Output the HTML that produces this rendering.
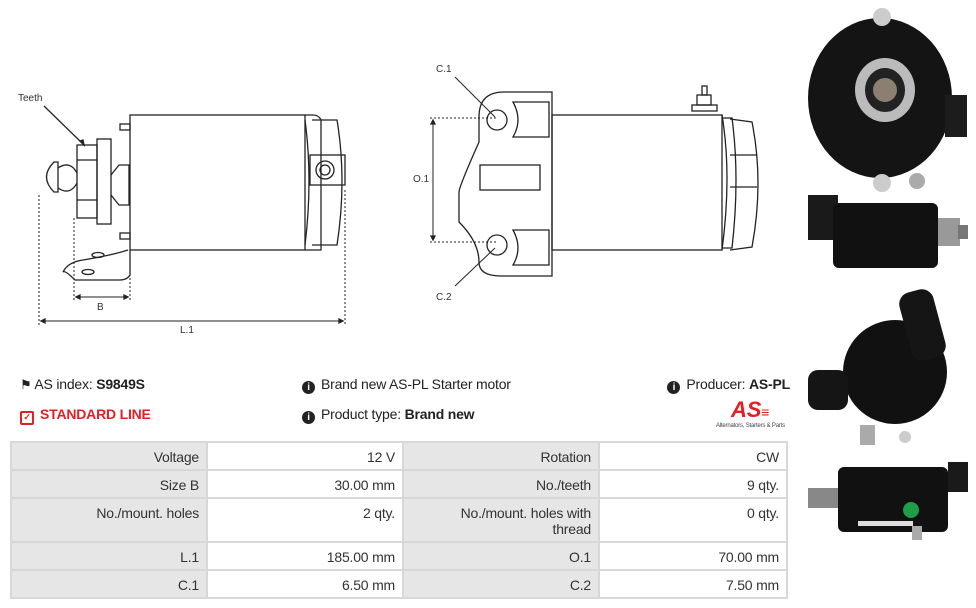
<!DOCTYPE html>
<html><head><meta charset="utf-8"><style>
body{margin:0;width:976px;height:608px;background:#fff;font-family:"Liberation Sans",sans-serif;position:relative;overflow:hidden;color:#222}
.t{position:absolute;font-size:14px;white-space:nowrap;letter-spacing:-0.2px}
b{font-weight:bold}
table{position:absolute;left:10px;top:441px;width:778px;border-collapse:collapse;font-size:14px;border:2px solid #d8d8d8;letter-spacing:-0.2px}
td{border:2px solid #d8d8d8;text-align:right;padding:6px 7px 0 4px;vertical-align:top;color:#333;line-height:16px}
td.h{background:#e6e6e6}
.ic{display:inline-block;width:13px;height:13px;border-radius:50%;background:#222;color:#fff;font-size:10px;text-align:center;line-height:13px;font-weight:bold;margin-right:6px;vertical-align:-1px}
</style></head><body>
<svg width="976" height="608" style="position:absolute;left:0;top:0" fill="none" stroke="#222" stroke-width="1.3">
<text x="18" y="101" font-size="10" fill="#333" stroke="none" font-family="Liberation Sans">Teeth</text>
<line x1="44" y1="106" x2="83" y2="144"/><path d="M80 141 l4 4 l-1 -5z" fill="#222"/>
<rect x="130" y="115" width="175" height="135"/>
<path d="M305 115 l8 0 q6 0 8 5 l0 130 -8 0 -8 0"/>
<path d="M305 120 q8 60 0 125"/>
<path d="M312 120 l25 0 q10 60 0 125 l-25 0"/>
<rect x="310" y="155" width="35" height="30"/>
<circle cx="325" cy="170" r="9"/><circle cx="325" cy="170" r="5"/>
<rect x="120" y="124" width="10" height="6"/><rect x="120" y="233" width="10" height="6"/>
<rect x="97" y="139" width="14" height="85"/>
<rect x="77" y="145" width="20" height="73"/>
<line x1="77" y1="160" x2="97" y2="160"/><line x1="77" y1="200" x2="97" y2="200"/>
<path d="M111 175 l8 -10 l10 0 l0 40 l-10 0 l-8 -10"/>
<path d="M54 162 q-15 15 0 30 l4 0 0 -30z"/><path d="M58 168 q12 -8 19 5 M58 188 q12 8 19 -5"/>
<path d="M130 250 l0 25 q-3 5 -10 5 l-45 0 q-10 -10 -12 -8 q5 -10 20 -12 q30 -5 45 -10"/>
<ellipse cx="98" cy="255" rx="6" ry="2.5"/><ellipse cx="88" cy="272" rx="6" ry="2.5"/>
<g stroke-dasharray="2,2" stroke-width="1"><line x1="39" y1="195" x2="39" y2="325"/><line x1="74" y1="218" x2="74" y2="300"/><line x1="130" y1="250" x2="130" y2="300"/><line x1="345" y1="190" x2="345" y2="325"/></g>
<line x1="76" y1="297" x2="128" y2="297" stroke-width="1"/><path d="M76 297 l4 -2 0 4z M128 297 l-4 -2 0 4z" fill="#222"/>
<line x1="41" y1="321" x2="343" y2="321" stroke-width="1"/><path d="M41 321 l4 -2 0 4z M343 321 l-4 -2 0 4z" fill="#222"/>
<text x="97" y="310" font-size="10" fill="#333" stroke="none" font-family="Liberation Sans">B</text>
<text x="180" y="333" font-size="10" fill="#333" stroke="none" font-family="Liberation Sans">L.1</text>
<path d="M552 92 l-48 0 q-25 0 -25 25 l0 25 q-20 45 -20 50 l0 30 q20 20 20 40 l0 0 q0 14 22 14 l51 0z"/>
<rect x="480" y="165" width="60" height="25"/>
<path d="M513 102 l36 0 0 35 -36 0 q10 -17 0 -35z"/><path d="M513 230 l36 0 0 35 -36 0 q10 -17 0 -35z"/>
<circle cx="497" cy="120" r="10"/><circle cx="497" cy="245" r="10"/>
<rect x="552" y="115" width="170" height="135"/>
<path d="M722 115 q10 60 0 135 M722 118 l10 0 q8 60 0 130 l-10 0 M730 119 l22 3 q12 60 0 125 l-22 3 M730 155 l27 0 M730 187 l27 0"/>
<rect x="692" y="105" width="25" height="6"/><rect x="697" y="95" width="14" height="10"/><rect x="702" y="86" width="5" height="9"/>
<g stroke-dasharray="2,2" stroke-width="1"><line x1="430" y1="118" x2="497" y2="118"/><line x1="430" y1="242" x2="497" y2="242"/></g>
<line x1="433" y1="120" x2="433" y2="240" stroke-width="1"/><path d="M433 120 l-2 4 4 0z M433 240 l-2 -4 4 0z" fill="#222"/>
<line x1="455" y1="77" x2="495" y2="117" stroke-width="1"/><line x1="455" y1="286" x2="495" y2="248" stroke-width="1"/>
<text x="436" y="72" font-size="10" fill="#333" stroke="none" font-family="Liberation Sans">C.1</text>
<text x="436" y="300" font-size="10" fill="#333" stroke="none" font-family="Liberation Sans">C.2</text>
<text x="413" y="182" font-size="10" fill="#333" stroke="none" font-family="Liberation Sans">O.1</text>
<g stroke="none">
<ellipse cx="880" cy="98" rx="72" ry="80" fill="#141414"/>
<rect x="945" y="95" width="22" height="42" fill="#1c1c1c"/>
<ellipse cx="885" cy="90" rx="30" ry="32" fill="#bbb"/><ellipse cx="885" cy="90" rx="20" ry="22" fill="#222"/><circle cx="885" cy="90" r="12" fill="#8a7f70"/>
<circle cx="882" cy="17" r="9" fill="#ccc"/><circle cx="882" cy="183" r="9" fill="#ccc"/><circle cx="917" cy="181" r="8" fill="#aaa"/>
<rect x="808" y="195" width="30" height="45" fill="#1a1a1a"/>
<rect x="833" y="203" width="105" height="65" rx="6" fill="#111"/>
<rect x="938" y="218" width="22" height="28" fill="#999"/><rect x="958" y="225" width="10" height="14" fill="#777"/>
<circle cx="895" cy="372" r="52" fill="#111"/>
<rect x="905" y="290" width="35" height="70" rx="12" fill="#151515" transform="rotate(-15 922 325)"/>
<rect x="808" y="370" width="40" height="40" rx="10" fill="#151515"/>
<circle cx="905" cy="437" r="6" fill="#ccc"/><rect x="860" y="425" width="15" height="20" fill="#aaa"/>
<rect x="808" y="488" width="30" height="20" fill="#888"/>
<rect x="838" y="467" width="110" height="65" rx="6" fill="#111"/>
<rect x="948" y="462" width="20" height="30" fill="#1a1a1a"/>
<circle cx="911" cy="510" r="8" fill="#1e9e48"/>
<rect x="858" y="521" width="55" height="5" fill="#ddd"/><rect x="912" y="526" width="10" height="14" fill="#aaa"/>
</g>
</svg>
<div class="t" style="left:20px;top:376px"><span style="font-size:13px">&#9873;</span> AS index: <b>S9849S</b></div>
<div class="t" style="left:20px;top:406px;color:#e31e24;font-weight:bold"><span style="display:inline-block;width:10px;height:10px;border:2px solid #e31e24;border-radius:2px;margin-right:6px;vertical-align:-1px;font-size:9px;line-height:9px;text-align:center">✓</span>STANDARD LINE</div>
<div class="t" style="left:302px;top:376px"><span class="ic">i</span>Brand new AS-PL Starter motor</div>
<div class="t" style="left:302px;top:406px"><span class="ic">i</span>Product type: <b>Brand new</b></div>
<div class="t" style="right:186px;top:376px"><span class="ic">i</span>Producer: <b>AS-PL</b></div>
<div class="t" style="left:731px;top:397px;color:#e31e24;font-weight:bold;font-style:italic;font-size:22px">AS<span style="font-size:14px">≡</span></div>
<div class="t" style="left:716px;top:423px;font-size:6px;color:#444">Alternators, Starters &amp; Parts</div>
<table>
<tr style="height:28px"><td class="h" style="width:183px">Voltage</td><td style="width:183px">12 V</td><td class="h" style="width:183px">Rotation</td><td>CW</td></tr>
<tr style="height:28px"><td class="h">Size B</td><td>30.00 mm</td><td class="h">No./teeth</td><td>9 qty.</td></tr>
<tr style="height:44px"><td class="h">No./mount. holes</td><td>2 qty.</td><td class="h">No./mount. holes with<br>thread</td><td>0 qty.</td></tr>
<tr style="height:28px"><td class="h">L.1</td><td>185.00 mm</td><td class="h">O.1</td><td>70.00 mm</td></tr>
<tr style="height:28px"><td class="h">C.1</td><td>6.50 mm</td><td class="h">C.2</td><td>7.50 mm</td></tr>
</table>
</body></html>
